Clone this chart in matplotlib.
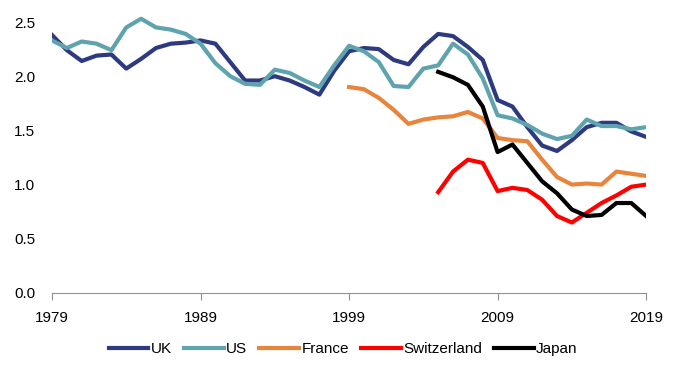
import matplotlib.pyplot as plt
import numpy as np

plt.rcParams['font.family'] = ['Liberation Sans', 'DejaVu Sans']

years = np.arange(1979, 2020)

uk = [2.38, 2.24, 2.14, 2.19, 2.20, 2.07, 2.16, 2.26, 2.30, 2.31, 2.33, 2.30,
      2.13, 1.96, 1.96, 2.00, 1.96, 1.90, 1.83, 2.05, 2.23, 2.26, 2.25, 2.15,
      2.11, 2.27, 2.39, 2.37, 2.27, 2.15, 1.78, 1.72, 1.53, 1.36, 1.31, 1.41,
      1.53, 1.57, 1.57, 1.49, 1.44]
us = [2.33, 2.26, 2.32, 2.30, 2.24, 2.45, 2.53, 2.45, 2.43, 2.39, 2.30, 2.12,
      2.00, 1.93, 1.92, 2.06, 2.03, 1.96, 1.90, 2.10, 2.28, 2.23, 2.13, 1.91,
      1.90, 2.07, 2.10, 2.30, 2.20, 1.98, 1.64, 1.61, 1.55, 1.47, 1.42, 1.45,
      1.60, 1.54, 1.54, 1.51, 1.53]

france_years = np.arange(1999, 2020)
france = [1.90, 1.88, 1.80, 1.69, 1.56, 1.60, 1.62, 1.63, 1.67, 1.61, 1.43,
          1.41, 1.40, 1.23, 1.07, 1.00, 1.01, 1.00, 1.12, 1.10, 1.08]

swiss_years = np.arange(2005, 2020)
swiss = [0.93, 1.12, 1.23, 1.20, 0.94, 0.97, 0.95, 0.86, 0.71, 0.65, 0.74,
         0.83, 0.90, 0.98, 1.00]

japan_years = np.arange(2005, 2020)
japan = [2.04, 1.99, 1.92, 1.72, 1.30, 1.37, 1.20, 1.03, 0.92, 0.77, 0.71,
         0.72, 0.83, 0.83, 0.71]

fig = plt.figure(figsize=(6.78, 3.66), dpi=100)
ax = fig.add_axes([0.0767, 0.1995, 0.8763, 0.77])

lw = 3
ax.plot(years, uk, color='#2E3A80', lw=lw, label='UK')
ax.plot(years, us, color='#5FA3AE', lw=lw, label='US')
ax.plot(france_years, france, color='#E8853D', lw=lw, label='France')
ax.plot(swiss_years, swiss, color='#FF0000', lw=lw, label='Switzerland')
ax.plot(japan_years, japan, color='#000000', lw=lw, label='Japan')

ax.set_xlim(1979, 2019)
ax.set_ylim(0, 2.6)
ax.set_xticks([1979, 1989, 1999, 2009, 2019])
ax.set_yticks(np.arange(0, 2.51, 0.5))
ax.set_yticklabels([f'{v:.1f}' for v in np.arange(0, 2.51, 0.5)])

for s in ['top', 'right', 'left']:
    ax.spines[s].set_visible(False)
ax.spines['bottom'].set_color('#909090')
ax.tick_params(axis='x', colors='#909090', length=5, labelcolor='black',
               labelsize=11, pad=8)
ax.tick_params(axis='y', length=0, labelsize=11, pad=12)

ax.legend(loc='upper center', bbox_to_anchor=(0.49, -0.125), ncol=5,
          frameon=False, fontsize=11, handlelength=2.6, handletextpad=0.15,
          columnspacing=0.8)

fig.savefig('out.png', dpi=100)
